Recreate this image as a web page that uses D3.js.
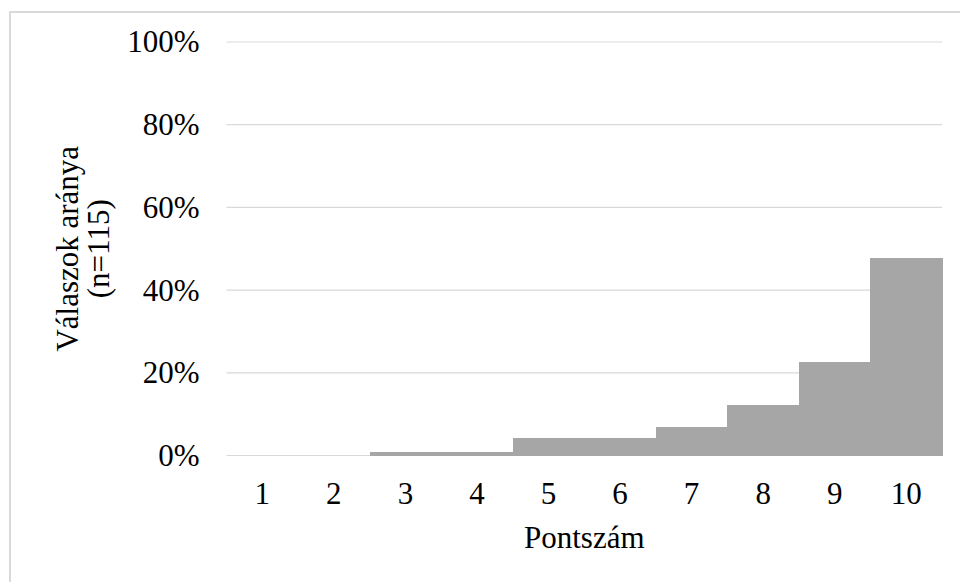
<!DOCTYPE html>
<html>
<head>
<meta charset="utf-8">
<script src="https://cdn.jsdelivr.net/npm/d3@7/dist/d3.min.js"></script>
<style>
  html, body { margin: 0; padding: 0; background: #ffffff; }
  svg { display: block; }
  text { font-family: "Liberation Serif", "Times New Roman", serif; fill: #000; }
</style>
</head>
<body>
<svg id="chart" width="960" height="582"></svg>
<script>
// Score categories and share of responses (n = 115)
const scores = ["1", "2", "3", "4", "5", "6", "7", "8", "9", "10"];
const shares = [0, 0, 0.0087, 0.0087, 0.0435, 0.0435, 0.0696, 0.1217, 0.2261, 0.4783];
const yTicks = [0, 0.2, 0.4, 0.6, 0.8, 1.0];
const yTitleLines = ["Válaszok aránya", "(n=115)"];
const xTitle = "Pontszám";

const svg = d3.select("#chart");
const W = 960, H = 582;
const plot = { left: 226.5, right: 942, top: 42, bottom: 455.5 };
const fontSize = 31;

// Chart frame
svg.append("rect")
  .attr("x", 10).attr("y", 12)
  .attr("width", W + 20).attr("height", H + 20)
  .attr("fill", "#ffffff")
  .attr("stroke", "#d9d9d9").attr("stroke-width", 2);

const x = d3.scaleBand().domain(scores).range([plot.left, plot.right]).padding(0);
const y = d3.scaleLinear().domain([0, 1]).range([plot.bottom, plot.top]);

// Horizontal gridlines
svg.append("g")
  .selectAll("line")
  .data(yTicks)
  .join("line")
  .attr("x1", plot.left).attr("x2", plot.right)
  .attr("y1", d => y(d)).attr("y2", d => y(d))
  .attr("stroke", "#d9d9d9").attr("stroke-width", 1.2);

// Bars (touching, no gaps between categories)
svg.append("g")
  .attr("shape-rendering", "crispEdges")
  .selectAll("rect")
  .data(scores.map((s, i) => ({ s, v: shares[i] })))
  .join("rect")
  .attr("x", d => x(d.s))
  .attr("width", x.bandwidth() + 0.5)
  .attr("y", d => y(d.v))
  .attr("height", d => y(0) - y(d.v))
  .attr("fill", "#a6a6a6");

// Y axis labels
const yAxis = d3.axisLeft(y).tickValues(yTicks).tickFormat(d3.format(".0%")).tickSize(0).tickPadding(27);
const yg = svg.append("g").attr("transform", `translate(${plot.left},0)`).call(yAxis);
yg.select(".domain").remove();
yg.selectAll("text")
  .attr("font-size", fontSize)
  .attr("fill", "#000");

// X axis labels
const xAxis = d3.axisBottom(x).tickSize(0).tickPadding(26);
const xg = svg.append("g").attr("transform", `translate(0,${plot.bottom})`).call(xAxis);
xg.select(".domain").remove();
xg.selectAll("text")
  .attr("font-size", fontSize)
  .attr("fill", "#000");

// Axis titles
svg.append("text")
  .attr("x", (plot.left + plot.right) / 2)
  .attr("y", 548)
  .attr("text-anchor", "middle")
  .attr("font-size", fontSize)
  .text(xTitle);

const yMid = (plot.top + plot.bottom) / 2;
const yTitle = svg.append("text")
  .attr("transform", `translate(0,${yMid}) rotate(-90)`)
  .attr("text-anchor", "middle")
  .attr("font-size", fontSize);
yTitle.selectAll("tspan")
  .data(yTitleLines)
  .join("tspan")
  .attr("x", 0)
  .attr("y", (d, i) => 78 + i * 31)
  .text(d => d);
</script>
</body>
</html>
